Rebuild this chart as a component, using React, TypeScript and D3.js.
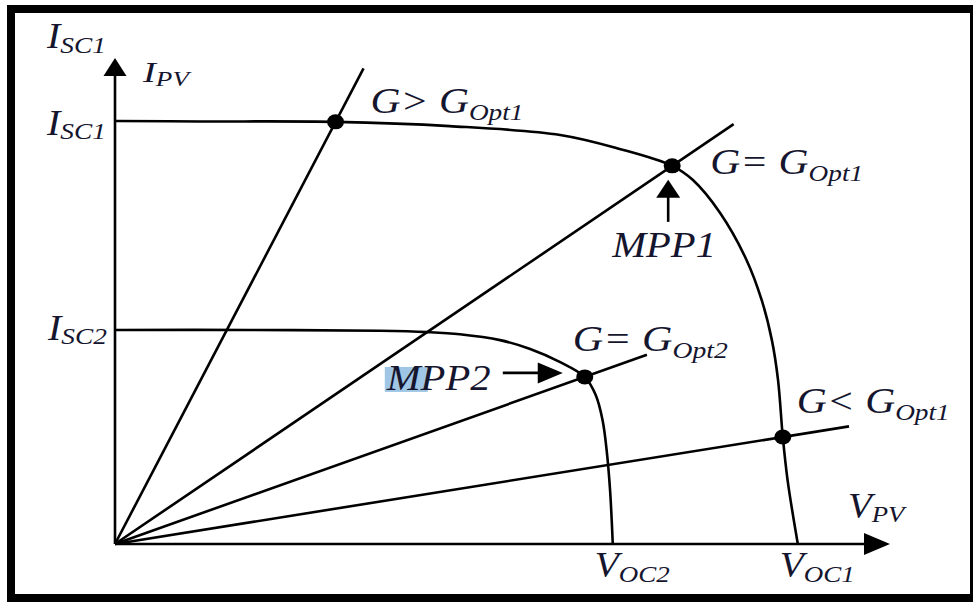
import React, { useEffect, useRef } from "react";
import * as d3 from "d3";

const W = 973;
const H = 602;

// Axis extents in per-unit values (V / Voc1, I / Isc1)
const V_MAX = 1.135;
const I_MAX = 1.149;

// I–V characteristic at the higher irradiance (Isc1, Voc1)
const curve1V = [0, 0.124, 0.323, 0.49, 0.652, 0.739, 0.816, 0.846, 0.886, 0.925, 0.947, 0.962, 0.971, 0.978, 0.985, 1.0];
const curve1I = [1.0, 0.999, 0.998, 0.988, 0.967, 0.934, 0.894, 0.861, 0.783, 0.671, 0.577, 0.482, 0.388, 0.253, 0.151, 0];

// I–V characteristic at the lower irradiance (Isc2, Voc2)
const curve2V = [0, 0.198, 0.388, 0.457, 0.505, 0.564, 0.608, 0.652, 0.688, 0.704, 0.714, 0.72, 0.725, 0.729];
const curve2I = [0.506, 0.506, 0.504, 0.501, 0.496, 0.482, 0.461, 0.43, 0.395, 0.352, 0.293, 0.222, 0.128, 0];

// Operating points where each load line crosses a characteristic
const opV = [0.323, 0.816, 0.688, 0.978];
const opI = [0.998, 0.894, 0.395, 0.253];
// Voltage at which each load line (through the origin) stops
const loadEndV = [0.364, 0.906, 0.779, 1.075];

// Operating-point captions: main text + subscript
const opMain = ["G> G", "G= G", "G= G", "G< G"];
const opSub = ["Opt1", "Opt1", "Opt2", "Opt1"];

// Axis captions
const axisMain = ["I", "I", "I", "I", "V", "V", "V"];
const axisSub = ["SC1", "PV", "SC1", "SC2", "PV", "OC2", "OC1"];

const mppNames = ["MPP1", "MPP2"];
const VOC2 = 0.729;
const VOC1 = 1.0;
const ISC1 = 1.0;
const ISC2 = 0.506;

const INK = "#15152e";
const FONT = "'Liberation Serif', 'Times New Roman', serif";

export default function App() {
  const ref = useRef<SVGSVGElement>(null);

  useEffect(() => {
    const svg = d3.select(ref.current);
    svg.selectAll("*").remove();

    const x = d3.scaleLinear().domain([0, V_MAX]).range([115, 890]);
    const y = d3.scaleLinear().domain([0, I_MAX]).range([544, 58]);

    svg.append("rect").attr("x", 0).attr("y", 0).attr("width", W).attr("height", H).attr("fill", "#fff");

    const plot = svg.append("g");
    const sw = 2.6;

    // axes with arrow heads
    const yTip = y(I_MAX);
    const xTip = x(V_MAX);
    plot.append("line")
      .attr("x1", x(0)).attr("y1", y(0)).attr("x2", x(0)).attr("y2", yTip + 16)
      .attr("stroke", "#000").attr("stroke-width", sw);
    plot.append("path")
      .attr("d", `M${x(0)},${yTip} L${x(0) - 11.5},${yTip + 18} L${x(0) + 11.5},${yTip + 18} Z`)
      .attr("fill", "#000");
    plot.append("line")
      .attr("x1", x(0)).attr("y1", y(0)).attr("x2", xTip - 24).attr("y2", y(0))
      .attr("stroke", "#000").attr("stroke-width", sw);
    plot.append("path")
      .attr("d", `M${xTip},${y(0)} L${xTip - 26},${y(0) - 11} L${xTip - 26},${y(0) + 11} Z`)
      .attr("fill", "#000");

    // I–V characteristics
    const line = d3.line<[number, number]>()
      .x((d) => x(d[0]))
      .y((d) => y(d[1]))
      .curve(d3.curveCatmullRom.alpha(0.5));

    const c1 = curve1V.map((v, i) => [v, curve1I[i]] as [number, number]);
    const c2 = curve2V.map((v, i) => [v, curve2I[i]] as [number, number]);
    [c1, c2].forEach((pts) => {
      plot.append("path").attr("d", line(pts)).attr("fill", "none")
        .attr("stroke", "#000").attr("stroke-width", sw);
    });

    // load lines through the origin and each operating point
    opV.forEach((v, i) => {
      const g = opI[i] / v;
      const endV = loadEndV[i];
      plot.append("line")
        .attr("x1", x(0)).attr("y1", y(0))
        .attr("x2", x(endV)).attr("y2", y(g * endV))
        .attr("stroke", "#000").attr("stroke-width", sw);
    });

    // operating-point markers
    opV.forEach((v, i) => {
      plot.append("ellipse")
        .attr("cx", x(v)).attr("cy", y(opI[i]))
        .attr("rx", 8.5).attr("ry", 7.5).attr("fill", "#000");
    });

    // MPP1 arrow (pointing up at the marker)
    const m1x = x(opV[1]) - 4;
    const m1y = y(opI[1]);
    plot.append("line")
      .attr("x1", m1x).attr("y1", m1y + 56).attr("x2", m1x).attr("y2", m1y + 30)
      .attr("stroke", "#000").attr("stroke-width", sw);
    plot.append("path")
      .attr("d", `M${m1x},${m1y + 14} L${m1x - 12},${m1y + 32} L${m1x + 12},${m1y + 32} Z`)
      .attr("fill", "#000");

    // MPP2 arrow (pointing right at the marker)
    const m2x = x(opV[2]) - 22;
    const m2y = y(opI[2]) - 4;
    plot.append("line")
      .attr("x1", m2x - 60).attr("y1", m2y).attr("x2", m2x - 22).attr("y2", m2y)
      .attr("stroke", "#000").attr("stroke-width", sw);
    plot.append("path")
      .attr("d", `M${m2x},${m2y} L${m2x - 25},${m2y - 10.5} L${m2x - 25},${m2y + 10.5} Z`)
      .attr("fill", "#000");

    // selection highlight behind the "M" of MPP2
    plot.append("rect")
      .attr("x", x(opV[2]) - 200).attr("y", y(opI[2]) - 10)
      .attr("width", 43).attr("height", 25)
      .attr("fill", "#9fc6e4");

    const labels = svg.append("g");
    type Lab = { main: string; sub?: string; x: number; y: number; w: number; fs: number; ss: number; dy: number };
    const drawLabel = (l: Lab) => {
      const g = labels.append("g").attr("transform", `translate(${l.x},${l.y})`);
      const t = g.append("text")
        .attr("x", 0).attr("y", 0)
        .attr("font-family", FONT).attr("font-style", "italic")
        .attr("fill", INK).attr("font-size", l.fs)
        .style("white-space", "pre");
      t.append("tspan").text(l.main);
      if (l.sub) {
        t.append("tspan").attr("font-size", l.ss).attr("dy", l.dy).text(l.sub);
      }
      const bw = (t.node() as SVGTextElement).getBBox().width;
      const sx = bw > 0 ? l.w / bw : 1;
      g.attr("transform", `translate(${l.x},${l.y}) scale(${sx},1)`);
    };

    // axis captions
    const x0 = x(0);
    const axisLayout = [
      { x: x0 - 68, y: 48, w: 60, fs: 35, ss: 24, dy: 5 },
      { x: x0 + 28, y: 82, w: 50, fs: 30, ss: 21, dy: 4 },
      { x: x0 - 68, y: y(ISC1) + 14, w: 60, fs: 35, ss: 24, dy: 4 },
      { x: x0 - 67, y: y(ISC2) + 10, w: 60, fs: 35, ss: 24, dy: 4 },
      { x: x(V_MAX) - 42, y: y(0) - 26, w: 59, fs: 35, ss: 24, dy: 4 },
      { x: x(VOC2) - 18, y: y(0) + 33, w: 75, fs: 35, ss: 24, dy: 5 },
      { x: x(VOC1) - 18, y: y(0) + 33, w: 75, fs: 35, ss: 24, dy: 5 },
    ];
    axisLayout.forEach((p, i) => drawLabel({ main: axisMain[i], sub: axisSub[i], ...p }));

    // operating-point captions
    const opOffset = [
      { dx: 35, dy: -9, w: 153 },
      { dx: 38, dy: 8, w: 153 },
      { dx: -12, dy: -26, w: 155 },
      { dx: 14, dy: -24, w: 153 },
    ];
    opV.forEach((v, i) => {
      const o = opOffset[i];
      drawLabel({
        main: opMain[i], sub: opSub[i],
        x: x(v) + o.dx, y: y(opI[i]) + o.dy, w: o.w, fs: 35, ss: 23, dy: 7,
      });
    });

    // MPP captions
    drawLabel({ main: mppNames[0], x: x(opV[1]) - 60, y: y(opI[1]) + 91, w: 105, fs: 35, ss: 0, dy: 0 });
    drawLabel({ main: mppNames[1], x: x(opV[2]) - 198, y: y(opI[2]) + 13, w: 105, fs: 35, ss: 0, dy: 0 });

    // outer frame
    svg.append("rect")
      .attr("x", 11).attr("y", 9).attr("width", 963).attr("height", 589)
      .attr("fill", "none").attr("stroke", "#000").attr("stroke-width", 8);
  }, []);

  return (
    <svg
      ref={ref}
      width={W}
      height={H}
      style={{ position: "absolute", left: 0, top: 0, display: "block" }}
    />
  );
}
